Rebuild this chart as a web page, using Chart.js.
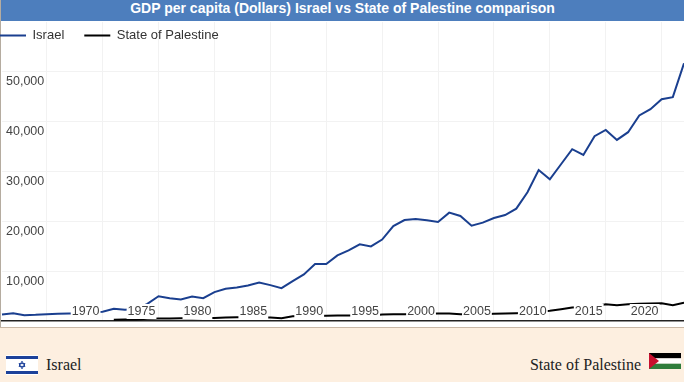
<!DOCTYPE html>
<html>
<head>
<meta charset="utf-8">
<title>GDP per capita</title>
<script src="https://cdn.jsdelivr.net/npm/chart.js@4/dist/chart.umd.min.js"></script>
<style>
  html, body { margin: 0; padding: 0; background: #fff; }
  #page { position: relative; width: 684px; height: 382px; overflow: hidden; }
  #title { position: absolute; left: 1px; top: 0; width: 683px; height: 21px; background: #4d7ebd; color: #fff;
           font: bold 14px "Liberation Sans", Arial, sans-serif; line-height: 17px; text-align: center; }
  #edge { position: absolute; left: 0; top: 0; width: 1px; height: 327px; background: #b5aca0; }
  #chart { position: absolute; left: 0; top: 21px; }
  #footer { position: absolute; left: 0; top: 327px; width: 684px; height: 55px; background: #fdefe0; border-top: 1px solid #c9b8a6; box-sizing: border-box; }
  .name { position: absolute; top: 28px; font: 16px "Liberation Serif", serif; color: #222; white-space: nowrap; }
  .flag { position: absolute; }
</style>
</head>
<body>
<div id="page">
  <div id="edge"></div>
  <div id="title">GDP per capita (Dollars) Israel vs State of Palestine comparison</div>
  <canvas id="chart" width="684" height="301"></canvas>
  <div id="footer">
    <svg class="flag" style="left:6px;top:27px" width="32" height="20" viewBox="0 0 32 20">
      <rect width="32" height="20" fill="#fff"/>
      <rect y="1" width="32" height="3" fill="#1c419a"/>
      <rect y="16" width="32" height="3" fill="#1c419a"/>
      <path d="M16 6.2l3 5.2h-6zM16 13.8l-3-5.2h6z" fill="none" stroke="#1c419a" stroke-width="1"/>
    </svg>
    <div class="name" style="left:46px">Israel</div>
    <div class="name" style="right:43px">State of Palestine</div>
    <svg class="flag" style="left:649px;top:25px" width="32" height="16" viewBox="0 0 32 16">
      <rect width="32" height="5.4" fill="#000"/>
      <rect y="5.4" width="32" height="5.3" fill="#fff"/>
      <rect y="10.7" width="32" height="5.3" fill="#2f7d3c"/>
      <path d="M0 0L10 8L0 16z" fill="#c8102e"/>
    </svg>
  </div>
</div>
<script>
// values
const years = [];
for (let y = 1960; y <= 2021; y++) years.push(y);

const israel = [1300, 1570, 1170, 1240, 1370, 1440, 1500, 1500, 1700, 1850,
  2450, 2250, 2400, 3450, 4980, 4580, 4320, 4920, 4580, 5790,
  6470, 6730, 7130, 7740, 7200, 6600, 8000, 9350, 11420, 11420,
  13170, 14170, 15380, 14970, 16350, 19050, 20260, 20460, 20200, 19860,
  21750, 21070, 19130, 19740, 20660, 21270, 22550, 25830, 30310, 28440,
  31460, 34470, 33330, 37090, 38350, 36340, 37890, 41250, 42510, 44520,
  44920, 51700];

const palestine = [null, null, null, null, null, null, null, null, null, null,
  240, 300, 320, 440, 500, 520, 560, 560, 590, 620,
  700, 760, 760, 700, 690, 560, 960, 1000, 1000, 1040,
  1090, 1100, 1100, 1050, 1300, 1370, 1370, 1400, 1450, 1500,
  1480, 1370, 1300, 1350, 1430, 1480, 1550, 1650, 1800, 2050,
  2370, 2710, 2800, 2900, 3380, 3180, 3350, 3480, 3520, 3560,
  3180, 3690];

const seriesNames = ['Israel', 'State of Palestine'];
const firstLabelYear = 1970;

// legend goes in a single row over the plot, tight to the top left corner
const legendRow = {
  id: 'legendRow',
  beforeLayout(chart) {
    chart.legend.isHorizontal = () => true;
  },
  afterLayout(chart) {
    chart.legend.top -= 13;
    chart.legend.left -= 20;
  }
};

new Chart(document.getElementById('chart'), {
  type: 'line',
  data: {
    labels: years,
    datasets: [
      { label: seriesNames[0], data: israel, borderColor: '#1a3f8f', backgroundColor: '#1a3f8f', borderWidth: 2, pointRadius: 0, tension: 0 },
      { label: seriesNames[1], data: palestine, borderColor: '#000', backgroundColor: '#000', borderWidth: 2, pointRadius: 0, tension: 0 }
    ]
  },
  plugins: [legendRow],
  options: {
    responsive: false,
    animation: false,
    layout: { padding: { left: 2, top: 1, right: 0, bottom: 0 } },
    plugins: {
      title: { display: false },
      tooltip: { enabled: false },
      legend: {
        position: 'chartArea',
        align: 'start',
        labels: {
          boxWidth: 26,
          boxHeight: 0,
          padding: 20,
          color: '#333',
          font: { family: '"Liberation Sans", Arial, sans-serif', size: 13 }
        }
      }
    },
    scales: {
      x: {
        grid: { color: '#f2f2f2', drawTicks: false },
        border: { color: '#222', width: 1.5 },
        afterBuildTicks(axis) {
          // grid lines fall one year before each printed label
          axis.ticks = axis.ticks.filter(t => (years[t.value] + 1) % 5 === 0);
        },
        afterFit(axis) { axis.height = 1; },
        ticks: {
          maxRotation: 0,
          z: 1,
          mirror: true, // labels sit inside the plot, just above the axis line
          padding: 2,
          labelOffset: -17,
          color: '#444',
          font: { family: '"Liberation Sans", Arial, sans-serif', size: 12.5 },
          showLabelBackdrop: ctx => ctx.tick.label !== '',
          backdropColor: '#fff',
          backdropPadding: { x: 1, y: 0 },
          callback(value) {
            const year = years[value] + 1;
            return year >= firstLabelYear ? String(year) : '';
          }
        }
      },
      y: {
        min: 0,
        max: 60000,
        grid: {
          drawTicks: false,
          color: ctx => (ctx.tick.value === 0 || ctx.tick.value === 60000) ? 'transparent' : '#f2f2f2'
        },
        border: { display: false },
        afterFit(axis) {
          axis.width = 0;
          axis.paddingTop = 0;
          axis.paddingBottom = 0;
        },
        ticks: {
          stepSize: 10000,
          mirror: true,
          padding: 4,
          labelOffset: 10,
          color: '#444',
          font: { family: '"Liberation Sans", Arial, sans-serif', size: 12.5 },
          callback(value) {
            return (value === 0 || value === 60000) ? '' : value.toLocaleString('en-US');
          }
        }
      }
    }
  }
});
</script>
</body>
</html>
